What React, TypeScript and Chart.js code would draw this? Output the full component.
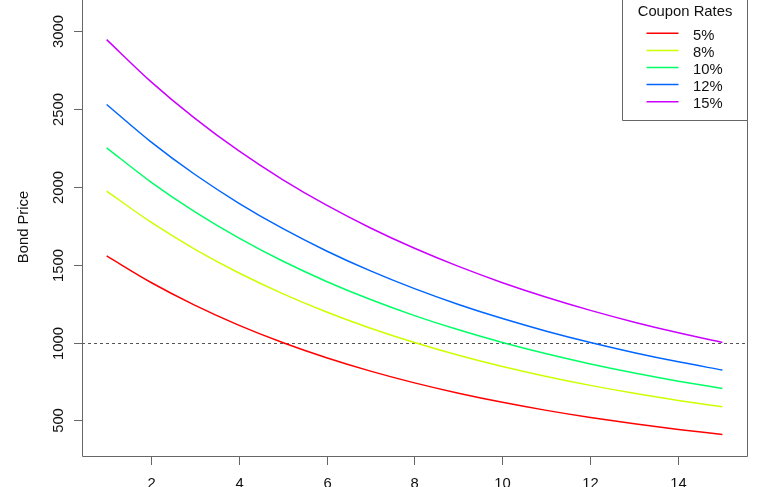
import React, { useEffect, useRef } from "react";
import { Chart, registerables } from "chart.js";

Chart.register(...registerables);

// Yield (%) on the x axis
const yields = [1, 2, 3, 4, 5, 6, 7, 8, 9, 10, 11, 12, 13, 14, 15];

// Bond prices for each coupon rate
const price5 = [1555.9, 1387.1, 1240.2, 1112.0, 1000.0, 902.0, 816.1, 740.6, 674.2, 615.7, 564.0, 518.2, 477.7, 441.6, 409.5];
const price8 = [1972.8, 1774.2, 1600.4, 1447.9, 1314.0, 1196.0, 1092.0, 1000.0, 918.6, 846.3, 782.0, 724.7, 673.5, 627.8, 586.6];
const price10 = [2250.7, 2032.3, 1840.6, 1671.9, 1523.3, 1392.0, 1275.9, 1172.9, 1081.4, 1000.0, 927.3, 862.3, 804.1, 751.8, 704.7];
const price12 = [2528.7, 2290.4, 2080.7, 1895.9, 1732.6, 1588.0, 1459.8, 1345.8, 1244.3, 1153.7, 1072.7, 1000.0, 934.7, 875.9, 822.8];
const price15 = [2945.6, 2677.5, 2441.0, 2231.8, 2046.5, 1882.0, 1735.7, 1605.2, 1488.7, 1384.3, 1290.7, 1206.5, 1130.6, 1062.1, 1000.0];

const seriesLabels = ["5%", "8%", "10%", "12%", "15%"];
const seriesColors = ["#FF0000", "#CCFF00", "#00FF66", "#0066FF", "#CC00FF"];

const xTicks = [2, 4, 6, 8, 10, 12, 14];
const yTicks = [500, 1000, 1500, 2000, 2500, 3000];
const faceValue = 1000;

const yTitle = "Bond Price";
const legendTitle = "Coupon Rates";

const FONT = '14.8px "Liberation Sans", Arial, sans-serif';
const AXIS_COLOR = "#666666";
const TEXT_COLOR = "#111111";

const rPlotPlugin = {
  id: "rPlot",
  beforeDatasetsDraw(chart: any) {
    const { ctx, chartArea: a, scales } = chart;
    const y = scales.y;
    const py = Math.round(y.getPixelForValue(faceValue)) + 0.5;
    ctx.save();
    ctx.strokeStyle = "#555555";
    ctx.lineWidth = 1;
    ctx.setLineDash([3, 3]);
    ctx.beginPath();
    ctx.moveTo(a.left, py);
    ctx.lineTo(a.right, py);
    ctx.stroke();
    ctx.restore();
  },
  afterDraw(chart: any) {
    const { ctx, chartArea: a, scales } = chart;
    const x = scales.x;
    const y = scales.y;
    ctx.save();
    // box (top edge lies outside the picture)
    ctx.strokeStyle = AXIS_COLOR;
    ctx.lineWidth = 1;
    ctx.setLineDash([]);
    const L = Math.round(a.left) + 0.5;
    const R = Math.round(a.right) + 0.5;
    const B = Math.round(a.bottom) + 0.5;
    ctx.beginPath();
    ctx.moveTo(L, -2);
    ctx.lineTo(L, B);
    ctx.lineTo(R, B);
    ctx.lineTo(R, -2);
    ctx.stroke();

    ctx.font = FONT;
    ctx.fillStyle = TEXT_COLOR;

    // y ticks
    yTicks.forEach((v) => {
      const py = Math.round(y.getPixelForValue(v)) + 0.5;
      ctx.beginPath();
      ctx.moveTo(L - 8.5, py);
      ctx.lineTo(L, py);
      ctx.stroke();
      ctx.save();
      ctx.translate(L - 20, py);
      ctx.rotate(-Math.PI / 2);
      ctx.textAlign = "center";
      ctx.textBaseline = "alphabetic";
      ctx.fillText(String(v), 0, 0);
      ctx.restore();
    });

    // x ticks
    xTicks.forEach((v) => {
      const px = Math.round(x.getPixelForValue(v)) + 0.5;
      ctx.beginPath();
      ctx.moveTo(px, B);
      ctx.lineTo(px, B + 8.5);
      ctx.stroke();
      ctx.textAlign = "center";
      ctx.textBaseline = "alphabetic";
      ctx.fillText(String(v), px, B + 31);
    });

    // y title
    ctx.save();
    ctx.translate(27.7, (a.top + a.bottom) / 2 - 1);
    ctx.rotate(-Math.PI / 2);
    ctx.textAlign = "center";
    ctx.textBaseline = "alphabetic";
    ctx.fillText(yTitle, 0, 0);
    ctx.restore();

    // legend
    const lx0 = 622.5;
    const lx1 = R;
    const ly1 = 120.5;
    ctx.fillStyle = "#ffffff";
    ctx.fillRect(lx0, -2, lx1 - lx0, ly1 + 2);
    ctx.strokeStyle = AXIS_COLOR;
    ctx.beginPath();
    ctx.moveTo(lx0, -2);
    ctx.lineTo(lx0, ly1);
    ctx.lineTo(lx1, ly1);
    ctx.lineTo(lx1, -2);
    ctx.stroke();

    ctx.fillStyle = TEXT_COLOR;
    ctx.textAlign = "center";
    ctx.fillText(legendTitle, (lx0 + lx1) / 2, 15.8);

    chart.data.datasets.forEach((ds: any, i: number) => {
      const ly = 33.3 + i * 17.1;
      ctx.strokeStyle = ds.borderColor;
      ctx.lineWidth = 1.5;
      ctx.beginPath();
      ctx.moveTo(646.5, ly);
      ctx.lineTo(678.5, ly);
      ctx.stroke();
      ctx.fillStyle = TEXT_COLOR;
      ctx.textAlign = "left";
      ctx.fillText(ds.label, 693, ly + 6.3);
    });
    ctx.restore();
  },
};

export default function App() {
  const canvasRef = useRef<HTMLCanvasElement | null>(null);

  useEffect(() => {
    const canvas = canvasRef.current;
    if (!canvas) return;
    const allSeries = [price5, price8, price10, price12, price15];
    const chart = new Chart(canvas, {
      type: "line",
      data: {
        datasets: allSeries.map((vals, i) => ({
          label: seriesLabels[i],
          data: yields.map((yv, j) => ({ x: yv, y: vals[j] })),
          borderColor: seriesColors[i],
          backgroundColor: seriesColors[i],
          borderWidth: 1.5,
          pointRadius: 0,
          fill: false,
          cubicInterpolationMode: "monotone" as const,
        })),
      },
      options: {
        responsive: false,
        animation: false,
        events: [],
        layout: { padding: { left: 82, right: 21, top: 0, bottom: 31 } },
        plugins: { legend: { display: false }, tooltip: { enabled: false } },
        scales: {
          x: { type: "linear", min: 0.44, max: 15.56, display: false },
          y: { type: "linear", min: 271, max: 3200, display: false },
        },
      },
      plugins: [rPlotPlugin],
    });
    return () => chart.destroy();
  }, []);

  return (
    <div style={{ position: "fixed", left: 0, top: 0, width: 768, height: 487, background: "#fff" }}>
      <canvas ref={canvasRef} width={768} height={487} style={{ display: "block", width: 768, height: 487 }} />
    </div>
  );
}
